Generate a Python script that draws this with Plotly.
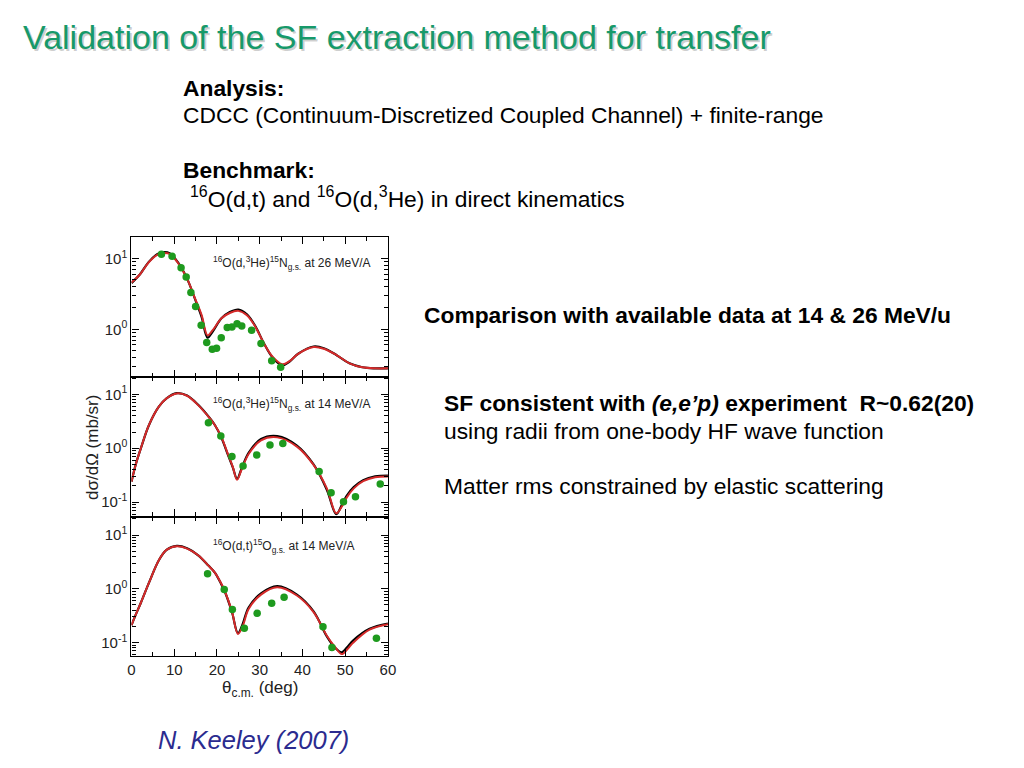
import plotly.graph_objects as go

# ---------------- data ----------------
# Panel 1: 16O(d,3He)15N g.s. at 26 MeV/A
theta1_curve = [0, 2, 4, 6, 7.5, 9, 11, 13, 15, 16.4, 17.8, 19, 21, 23, 25, 27, 29, 31, 33, 35.3, 37, 39, 42.6, 45, 48, 51, 54, 57, 60]
sig1_red = [4.6, 6.0, 8.8, 11.3, 12.0, 11.6, 8.5, 5.2, 2.6, 1.6, 0.82, 0.97, 1.42, 1.70, 1.82, 1.58, 1.08, 0.63, 0.41, 0.32, 0.355, 0.45, 0.56, 0.53, 0.43, 0.33, 0.29, 0.28, 0.28]
sig1_black = [4.5, 6.0, 8.9, 11.5, 12.3, 11.8, 8.6, 5.2, 2.55, 1.5, 0.76, 0.93, 1.42, 1.75, 1.90, 1.63, 1.10, 0.63, 0.40, 0.31, 0.35, 0.45, 0.57, 0.54, 0.43, 0.33, 0.29, 0.28, 0.28]
theta1_data = [7.0, 9.5, 11.6, 12.8, 13.9, 15.0, 16.3, 17.6, 18.9, 19.9, 21.0, 22.4, 23.5, 24.7, 25.8, 28.1, 30.3, 32.8, 34.9]
sig1_data = [11.5, 10.8, 7.4, 5.5, 3.3, 2.1, 1.14, 0.65, 0.52, 0.54, 0.76, 1.06, 1.08, 1.20, 1.11, 0.97, 0.63, 0.36, 0.29]

# Panel 2: 16O(d,3He)15N g.s. at 14 MeV/A
theta2_curve = [0, 1, 2.2, 4.1, 6.4, 8.2, 10.6, 13, 15.6, 18, 19.5, 21, 22.5, 23.7, 24.7, 25.7, 27.4, 30.3, 34.1, 38.7, 42.6, 45.7, 47.9, 49.3, 50.3, 52, 54.2, 57, 60]
sig2_red = [0.24, 0.5, 1.0, 2.7, 5.9, 8.4, 10.4, 9.4, 6.3, 3.85, 2.7, 1.64, 0.80, 0.45, 0.26, 0.39, 0.78, 1.40, 1.59, 1.07, 0.49, 0.18, 0.062, 0.085, 0.12, 0.18, 0.245, 0.29, 0.30]
sig2_black = [0.24, 0.5, 1.0, 2.7, 5.9, 8.4, 10.5, 9.5, 6.4, 3.9, 2.7, 1.6, 0.78, 0.44, 0.27, 0.41, 0.82, 1.48, 1.68, 1.12, 0.50, 0.17, 0.060, 0.092, 0.13, 0.19, 0.255, 0.30, 0.31]
theta2_data = [18.0, 20.9, 23.5, 26.1, 29.3, 32.4, 35.4, 43.9, 46.7, 49.6, 52.4, 58.2]
sig2_data = [2.98, 1.69, 0.70, 0.47, 0.75, 1.15, 1.23, 0.37, 0.15, 0.102, 0.126, 0.216]

# Panel 3: 16O(d,t)15O g.s. at 14 MeV/A
theta3_curve = [0, 1, 2.2, 4.1, 6.4, 8.2, 10.6, 13, 15.6, 18, 19.5, 21, 21.8, 23.5, 24.9, 26, 27.4, 30.3, 34.1, 38.7, 42.6, 45.7, 47.5, 49.2, 50.5, 51.9, 55.7, 60]
sig3_red = [0.21, 0.33, 0.55, 1.3, 3.4, 5.3, 6.2, 5.6, 4.2, 2.7, 2.0, 1.25, 0.92, 0.38, 0.145, 0.20, 0.42, 0.78, 1.07, 0.75, 0.37, 0.134, 0.085, 0.061, 0.075, 0.10, 0.174, 0.22]
sig3_black = [0.21, 0.33, 0.55, 1.3, 3.4, 5.3, 6.3, 5.7, 4.2, 2.7, 2.0, 1.22, 0.90, 0.37, 0.15, 0.22, 0.45, 0.82, 1.12, 0.78, 0.38, 0.13, 0.082, 0.066, 0.083, 0.11, 0.18, 0.225]
theta3_data = [17.8, 21.7, 23.6, 26.4, 29.4, 32.8, 35.7, 44.8, 46.9, 57.3]
sig3_data = [1.9, 0.97, 0.41, 0.184, 0.35, 0.54, 0.70, 0.197, 0.081, 0.12]

panel_labels = [
    "<sup>16</sup>O(d,<sup>3</sup>He)<sup>15</sup>N<sub>g.s.</sub> at 26 MeV/A",
    "<sup>16</sup>O(d,<sup>3</sup>He)<sup>15</sup>N<sub>g.s.</sub> at 14 MeV/A",
    "<sup>16</sup>O(d,t)<sup>15</sup>O<sub>g.s.</sub> at 14 MeV/A",
]
x_ticks = [0, 10, 20, 30, 40, 50, 60]
y_tickvals = [0.1, 1, 10]
y_ticktext = ["10<sup>-1</sup>", "10<sup>0</sup>", "10<sup>1</sup>"]

# ---------------- figure ----------------
W, H = 1024, 768
def px(x):
    return x / W
def py(y):
    return 1 - y / H

RED = "#d42a2a"
GREEN = "#1e9a1e"
FONT = "Liberation Sans, Arial, sans-serif"

fig = go.Figure()

panels = [
    (theta1_curve, sig1_red, sig1_black, theta1_data, sig1_data),
    (theta2_curve, sig2_red, sig2_black, theta2_data, sig2_data),
    (theta3_curve, sig3_red, sig3_black, theta3_data, sig3_data),
]
for i, (tc, sr, sb, td, sd) in enumerate(panels):
    xa = "x" if i == 0 else f"x{i+1}"
    ya = "y" if i == 0 else f"y{i+1}"
    fig.add_trace(go.Scatter(x=tc, y=sb, mode="lines", xaxis=xa, yaxis=ya,
                             line=dict(color="black", width=2.2, shape="spline", smoothing=1.0),
                             showlegend=False, hoverinfo="skip"))
    fig.add_trace(go.Scatter(x=tc, y=sr, mode="lines", xaxis=xa, yaxis=ya,
                             line=dict(color=RED, width=2.0, shape="spline", smoothing=1.0),
                             showlegend=False, hoverinfo="skip"))
    fig.add_trace(go.Scatter(x=td, y=sd, mode="markers", xaxis=xa, yaxis=ya,
                             marker=dict(color=GREEN, size=7.5, line=dict(width=0)),
                             showlegend=False, hoverinfo="skip"))

x_domain = [px(129), px(388.5)]
y_domains = [
    [py(377), py(237)],
    [py(516.5), py(377)],
    [py(656), py(516.5)],
]
y_ranges = [[-0.675, 1.305], [-1.266, 1.321], [-1.25, 1.345]]

minor_y = [v * m for v in (0.01, 0.1, 1, 10) for m in range(2, 10)]
minor_x = [5, 15, 25, 35, 45, 55]

layout = dict(
    width=W, height=H,
    margin=dict(l=0, r=0, t=0, b=0),
    paper_bgcolor="white", plot_bgcolor="white",
    showlegend=False,
    font=dict(family=FONT, color="black"),
)
for i in range(3):
    xk = "xaxis" if i == 0 else f"xaxis{i+1}"
    yk = "yaxis" if i == 0 else f"yaxis{i+1}"
    ya = "y" if i == 0 else f"y{i+1}"
    xa = "x" if i == 0 else f"x{i+1}"
    layout[xk] = dict(
        domain=x_domain, anchor=ya, range=[0, 60],
        tickmode="array", tickvals=x_ticks,
        showticklabels=(i == 2),
        ticks="inside", ticklen=7, tickwidth=1.3, tickcolor="black",
        showline=True, linecolor="black", linewidth=1.4, mirror="allticks",
        showgrid=False, zeroline=False,
        minor=dict(tickmode="array", tickvals=minor_x, ticks="inside", ticklen=4,
                   tickwidth=1.1, tickcolor="black", showgrid=False),
        tickfont=dict(size=15, family=FONT, color="#222"),
        fixedrange=True,
    )
    if i > 0:
        layout[xk]["matches"] = "x"
    layout[yk] = dict(
        domain=y_domains[i], anchor=xa, type="log", range=y_ranges[i],
        tickmode="array", tickvals=y_tickvals, ticktext=y_ticktext,
        ticks="inside", ticklen=7, tickwidth=1.3, tickcolor="black",
        showline=True, linecolor="black", linewidth=1.4, mirror="allticks",
        showgrid=False, zeroline=False,
        minor=dict(tickmode="array", tickvals=minor_y, ticks="inside", ticklen=4,
                   tickwidth=1.0, tickcolor="black", showgrid=False),
        tickfont=dict(size=15, family=FONT, color="#222"),
        fixedrange=True,
    )
fig.update_layout(**layout)

ann = []
# panel labels
for i, (lab, ypix) in enumerate(zip(panel_labels, [263, 404, 546])):
    ann.append(dict(x=px(209), y=py(ypix), xref="paper", yref="paper", text=lab,
                    showarrow=False, xanchor="left", yanchor="middle", align="left",
                    font=dict(size=12, family=FONT, color="#222")))
# axis titles
ann.append(dict(x=px(89), y=py(447), xref="paper", yref="paper", text="dσ/dΩ (mb/sr)",
                showarrow=False, textangle=-90, xanchor="center", yanchor="middle",
                font=dict(size=17, family=FONT, color="#222")))
ann.append(dict(x=px(259), y=py(689), xref="paper", yref="paper",
                text="θ<sub>c.m.</sub> (deg)",
                showarrow=False, xanchor="center", yanchor="middle",
                font=dict(size=17, family=FONT, color="#222")))

# slide title with shadow
title = "Validation of the SF extraction method for transfer"
ann.append(dict(x=px(19), y=py(39), xref="paper", yref="paper", text=title,
                showarrow=False, xanchor="left", yanchor="middle", align="left",
                font=dict(size=34, family=FONT, color="rgba(0,0,0,0.2)")))
ann.append(dict(x=px(17), y=py(37), xref="paper", yref="paper", text=title,
                showarrow=False, xanchor="left", yanchor="middle", align="left",
                font=dict(size=34, family=FONT, color="#17996a")))

BODY = 22.8
body = [
    (179, 88, "<b>Analysis:</b>"),
    (179, 115, "CDCC (Continuum-Discretized Coupled Channel) + finite-range"),
    (179, 170, "<b>Benchmark:</b>"),
    (186, 197, "<sup>16</sup>O(d,t) and <sup>16</sup>O(d,<sup>3</sup>He) in direct kinematics"),
    (423, 315, "<b>Comparison with available data at 14 &amp; 26 MeV/u</b>"),
    (443, 403, "<b>SF consistent with <i>(e,e’p)</i> experiment  R~0.62(20)</b>"),
    (443, 431, "using radii from one-body HF wave function"),
    (443, 486, "Matter rms constrained by elastic scattering"),
]
for x, y, t in body:
    ann.append(dict(x=px(x), y=py(y), xref="paper", yref="paper", text=t,
                    showarrow=False, xanchor="left", yanchor="middle", align="left",
                    font=dict(size=BODY, family=FONT, color="black")))
ann.append(dict(x=px(154), y=py(740), xref="paper", yref="paper", text="<i>N. Keeley (2007)</i>",
                showarrow=False, xanchor="left", yanchor="middle", align="left",
                font=dict(size=25.5, family=FONT, color="#2b2b8f")))

fig.update_layout(annotations=ann)
fig.write_html("out.html", config={"displayModeBar": False},
               post_script="document.body.style.margin='0px';")
